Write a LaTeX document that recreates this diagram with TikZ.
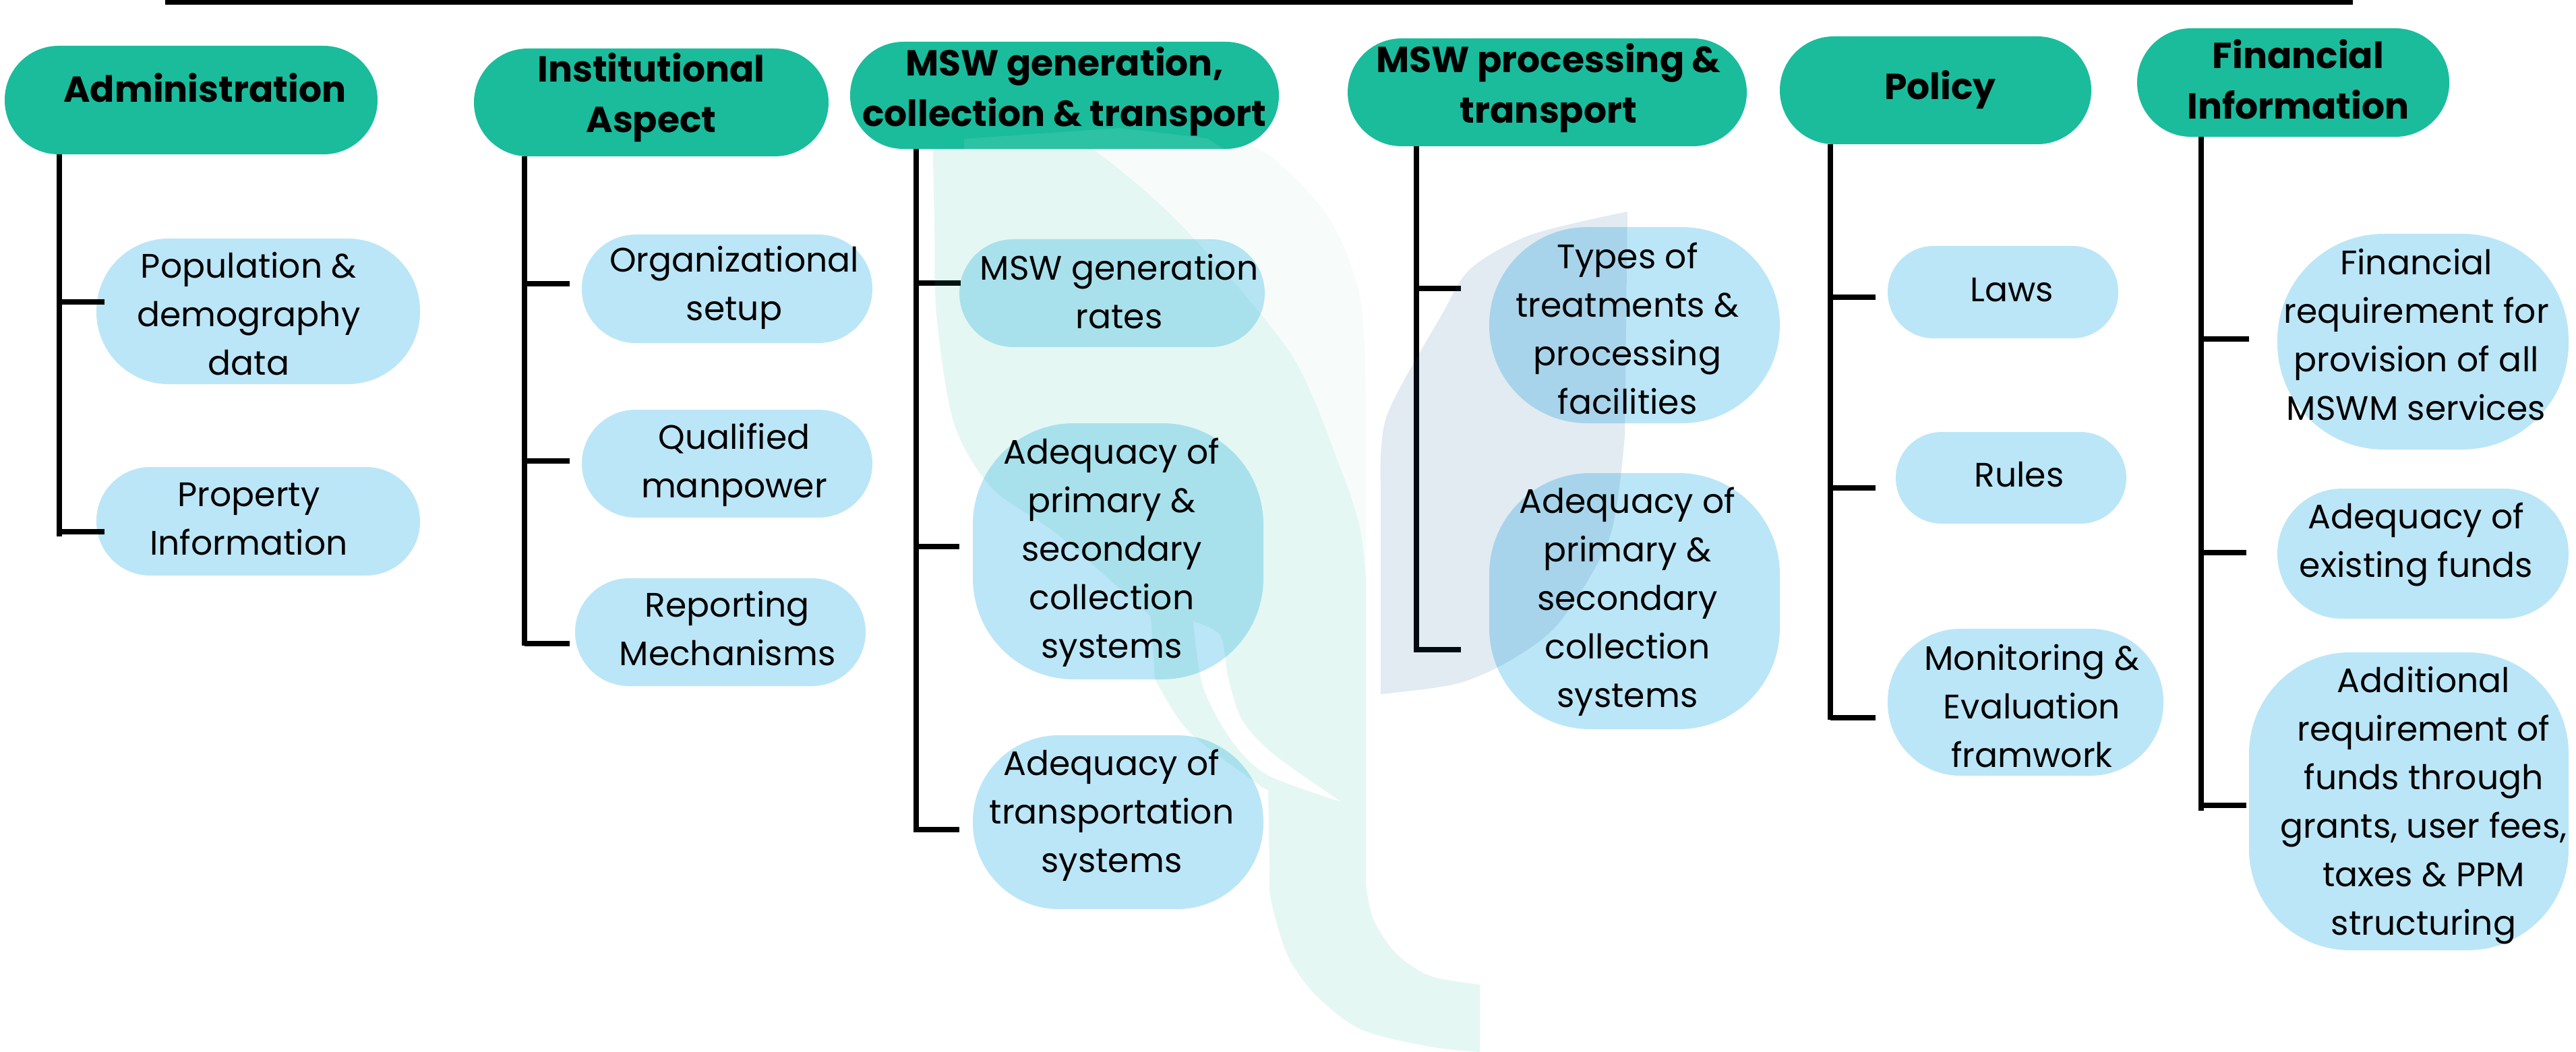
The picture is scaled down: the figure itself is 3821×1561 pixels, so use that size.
\documentclass[tikz,border=0pt]{standalone}
\usepackage{fontspec}
\setmainfont{Poppins}
\definecolor{headteal}{RGB}{26,188,156}
\definecolor{childblue}{RGB}{187,230,247}
\definecolor{leafgreen}{RGB}{20,190,150}
\definecolor{leafblue}{RGB}{24,90,150}
\tikzset{
  headpill/.style={rectangle,fill=headteal,draw=none,inner sep=0pt},
  childpill/.style={rectangle,fill=childblue,draw=none,inner sep=0pt},
  headtext/.style={inner sep=0pt,align=center,text=black,font=\fontsize{26.8}{37.5}\selectfont\bfseries},
  childtext/.style={inner sep=0pt,align=center,text=black,font=\fontsize{25.2}{36}\selectfont},
  conn/.style={draw=black,line width=3.75pt,line cap=butt},
}
\newcommand{\pill}[7]{\node[#2,minimum width={(#5-#3)*0.5pt},minimum height={(#6-#4)*0.5pt},rounded corners={#7*0.5pt}] (#1) at ({(#3+#5)/2},{(#4+#6)/2}) {};}
\begin{document}
\begin{tikzpicture}[x=0.5pt,y=-0.5pt]
\useasboundingbox (0,0) rectangle (3821,1561);
\fill[white] (0,0) rectangle (3821,1561);
\coordinate (ruleL) at (245,3.5);
\coordinate (ruleR) at (3490,3.5);
\draw[draw=black,line width=3.5pt] (ruleL) -- (ruleR);
% headers
\pill{hAdm}{headpill}{7}{68}{560}{229}{80}
\pill{hIns}{headpill}{703}{72}{1229}{232}{80}
\pill{hGen}{headpill}{1261}{62}{1897}{221}{79}
\pill{hPro}{headpill}{1999}{57}{2591}{217}{80}
\pill{hPol}{headpill}{2640}{54}{3102}{214}{80}
\pill{hFin}{headpill}{3170}{42}{3633}{203}{80}
% children
\pill{cPop}{childpill}{143}{354}{623}{570}{107}
\pill{cPrp}{childpill}{143}{693}{623}{854}{80}
\pill{cOrg}{childpill}{863}{348}{1294}{509}{80}
\pill{cQua}{childpill}{863}{608}{1294}{768}{80}
\pill{cRep}{childpill}{853}{858}{1284}{1018}{80}
\pill{cRat}{childpill}{1423}{355}{1876}{515}{80}
\pill{cPri}{childpill}{1443}{628}{1874}{1008}{150}
\pill{cTra}{childpill}{1443}{1091}{1874}{1349}{128}
\pill{cTyp}{childpill}{2209}{337}{2640}{628}{145}
\pill{cSec}{childpill}{2209}{702}{2640}{1082}{150}
\pill{cLaw}{childpill}{2800}{365}{3142}{502}{68}
\pill{cRul}{childpill}{2812}{641}{3154}{777}{68}
\pill{cMon}{childpill}{2800}{933}{3209}{1151}{108}
\pill{cFre}{childpill}{3378}{347}{3810}{667}{158}
\pill{cExi}{childpill}{3378}{725}{3810}{918}{96}
\pill{cAdd}{childpill}{3336}{968}{3810}{1410}{150}
% connector ends
\coordinate (tAdm) at (88,796);
\coordinate (bA1) at (155,448); \coordinate (bA2) at (155,789);
\coordinate (tIns) at (778,958);
\coordinate (bI1) at (845,421); \coordinate (bI2) at (845,684); \coordinate (bI3) at (845,955);
\coordinate (tGen) at (1359,1235);
\coordinate (bG1) at (1425,420); \coordinate (bG2) at (1423,811); \coordinate (bG3) at (1423,1231);
\coordinate (tPro) at (2101,968);
\coordinate (bP1) at (2167,428); \coordinate (bP2) at (2167,964);
\coordinate (tPol) at (2715,1068);
\coordinate (bL1) at (2782,441); \coordinate (bL2) at (2782,724); \coordinate (bL3) at (2782,1065);
\coordinate (tFin) at (3265,1203);
\coordinate (bF1) at (3336,503); \coordinate (bF2) at (3332,820); \coordinate (bF3) at (3332,1195);
\draw[conn] (hAdm.south -| tAdm) -- (tAdm);
\draw[conn] (hIns.south -| tIns) -- (tIns);
\draw[conn] (hGen.south -| tGen) -- (tGen);
\draw[conn] (hPro.south -| tPro) -- (tPro);
\draw[conn] (hPol.south -| tPol) -- (tPol);
\draw[conn] (hFin.south -| tFin) -- (tFin);
\foreach \e/\t in {bA1/tAdm,bA2/tAdm,bI1/tIns,bI2/tIns,bI3/tIns,bG1/tGen,bG2/tGen,bG3/tGen,bP1/tPro,bP2/tPro,bL1/tPol,bL2/tPol,bL3/tPol,bF1/tFin,bF2/tFin,bF3/tFin}
  \draw[conn] (\e -| \t) -- (\e);
% watermark
\fill[leafgreen,fill opacity=.11,even odd rule]
  plot[smooth] coordinates {(1383,195) (1386,330) (1389,467) (1415,628) (1472,725) (1570,794) (1707,915)}
  -- (1713,1007) -- plot[smooth] coordinates {(1713,1007) (1763,1085) (1868,1165) (1881,1170)}
  -- plot[smooth] coordinates {(1881,1170) (1883,1280) (1885,1334) (1910,1418) (1953,1478) (2020,1528) (2121,1553) (2195,1561)}
  -- (2195,1461)
  -- plot[smooth] coordinates {(2195,1461) (2121,1448) (2070,1414) (2037,1364) (2026,1313)}
  -- (2026,860)
  -- plot[smooth] coordinates {(2026,860) (2017,783) (1989,697) (1914,524) (1753,335) (1627,226) (1560,195)}
  -- cycle
  plot[smooth] coordinates {(1770,922) (1810,943) (1822,1007) (1843,1069) (1889,1119) (1990,1190)}
  -- plot[smooth] coordinates {(1990,1190) (1880,1150) (1826,1098) (1784,1018) (1770,922)}
  -- cycle;
\fill[leafgreen,fill opacity=.03]
  plot[smooth] coordinates {(1627,226) (1753,335) (1914,524) (1989,697) (2017,783) (2026,860)}
  -- (2026,582)
  -- plot[smooth] coordinates {(2026,582) (2017,438) (1971,323) (1885,232) (1800,195)}
  -- (1560,195) -- cycle;
\fill[white,fill opacity=.09] (1430,206) -- (1660,190) -- (1790,205) -- (1815,221) -- (1430,221) -- cycle;
\fill[leafblue,fill opacity=.12]
  (2414,314)
  -- plot[smooth] coordinates {(2414,314) (2272,348) (2182,398) (2138,468) (2057,617) (2048,720)}
  -- (2048,1030)
  -- plot[smooth] coordinates {(2048,1030) (2163,1014) (2247,976) (2316,920) (2388,796) (2410,647)}
  -- cycle;
% header text
\node[headtext] (hAdmT) at (304,130) {Administration};
\node[headtext] (hInsT) at (966,145) {Institutional\\Aspect};
\node[headtext] (hGenT) at (1579,136) {MSW generation,\\collection \& transport};
\node[headtext] (hProT) at (2297,131) {MSW processing \&\\transport};
\node[headtext] (hPolT) at (2878,133) {Policy};
\node[headtext] (hFinT) at (3409,118) {Financial\\Information};
% child text
\node[childtext] (cPopT) at (369,466) {Population \&\\demography\\data};
\node[childtext] (cPrpT) at (369,770) {Property\\Information};
\node[childtext] (cOrgT) at (1089,427) {Organizational\\setup};
\node[childtext] (cQuaT) at (1089,690) {Qualified\\manpower};
\node[childtext] (cRepT) at (1079,933) {Reporting\\Mechanisms};
\node[childtext] (cRatT) at (1660,433) {MSW generation\\rates};
\node[childtext] (cPriT) at (1649,820) {Adequacy of\\primary \&\\secondary\\collection\\systems};
\node[childtext] (cTraT) at (1649,1210) {Adequacy of\\transportation\\systems};
\node[childtext] (cTypT) at (2414,487) {Types of\\treatments \&\\processing\\facilities};
\node[childtext] (cSecT) at (2414,893) {Adequacy of\\primary \&\\secondary\\collection\\systems};
\node[childtext] (cLawT) at (2984,430) {Laws};
\node[childtext] (cRulT) at (2995,704) {Rules};
\node[childtext] (cMonT) at (3014,1048) {Monitoring \&\\Evaluation\\framwork};
\node[childtext] (cFreT) at (3584,497) {Financial\\requirement for\\provision of all\\MSWM services};
\node[childtext] (cExiT) at (3584,808) {Adequacy of\\existing funds};
\node[childtext] (cAddT) at (3595,1195) {Additional\\requirement of\\funds through\\grants, user fees,\\taxes \& PPM\\structuring};
\end{tikzpicture}
\end{document}
